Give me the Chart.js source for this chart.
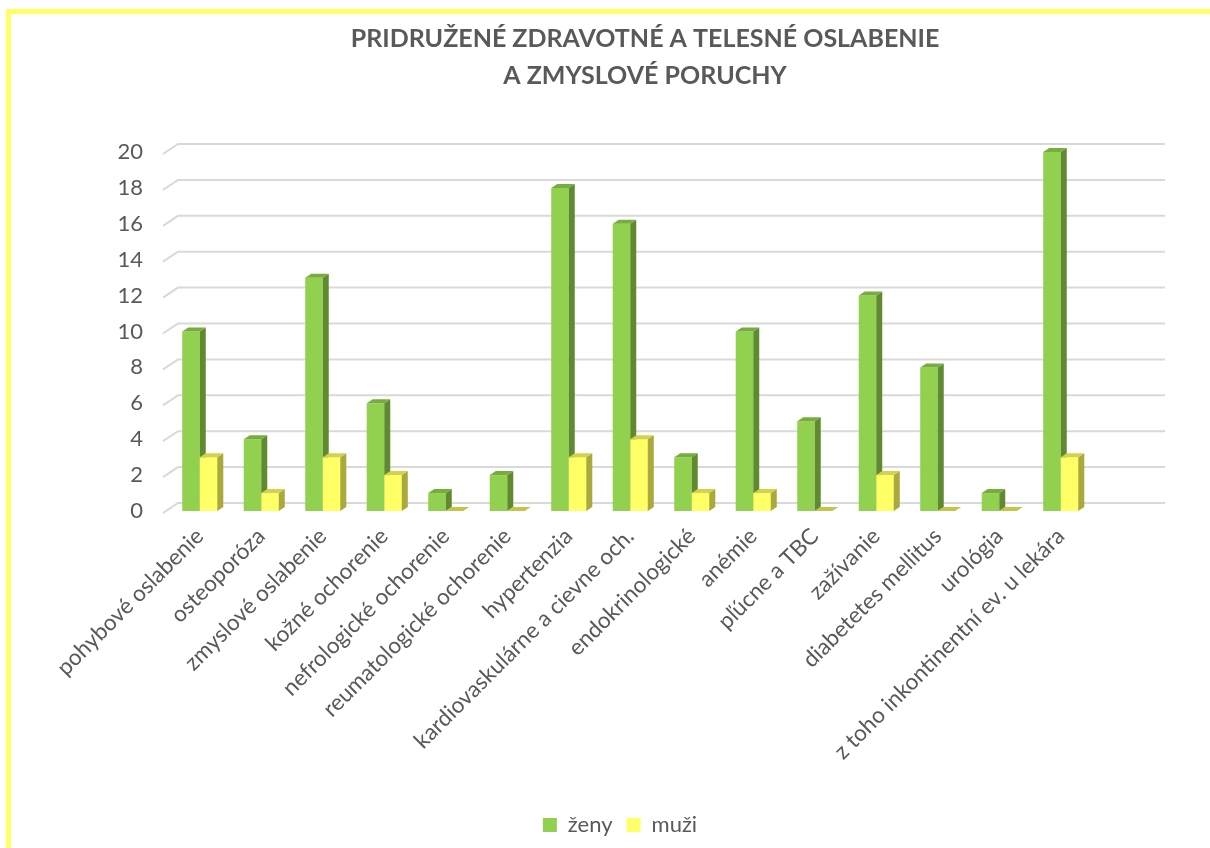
<!DOCTYPE html>
<html>
<head>
<meta charset="utf-8">
<script src="https://cdn.jsdelivr.net/npm/chart.js@4.4.1/dist/chart.umd.min.js"></script>
<style>
  html, body { margin: 0; padding: 0; background: #fff; overflow: hidden; }
  #wrap { position: relative; width: 1210px; height: 848px; }
  #frame { position: absolute; left: 6px; top: 9px; width: 1230px; height: 870px;
           border-left: 5px solid #ffff66; border-top: 5px solid #ffff66; pointer-events: none; }
</style>
</head>
<body>
<div id="wrap">
  <canvas id="myChart" width="1210" height="848"></canvas>
  <div id="frame"></div>
</div>
<script>
// categories + values (last category is empty in the sheet)
let categories = ["pohybové oslabenie", "osteoporóza", "zmyslové oslabenie", "kožné ochorenie",
    "nefrologické ochorenie", "reumatologické ochorenie", "hypertenzia", "kardiovaskulárne a cievne och.",
    "endokrinologické", "anémie", "pľúcne a TBC", "zažívanie", "diabetetes mellitus", "urológia",
    "z toho inkontinentní ev. u lekára", ""];
let zeny = [10, 4, 13, 6, 1, 2, 18, 16, 3, 10, 5, 12, 8, 1, 20, null];
let muzi = [3, 1, 3, 2, 0, 0, 3, 4, 1, 1, 0, 2, 0, 0, 3, null];
let yTicks = [0, 2, 4, 6, 8, 10, 12, 14, 16, 18, 20];
let titleLines = ['PRIDRUŽENÉ ZDRAVOTNÉ A TELESNÉ OSLABENIE', 'A ZMYSLOVÉ PORUCHY'];

const textColor = '#595959';
const fontName = 'Lato, "Open Sans", sans-serif';

// title centred over the whole frame, not only the chart area
const titleText = {
    id: 'titleText',
    afterDraw(chart) {
        let ctx = chart.ctx;
        ctx.save();
        ctx.fillStyle = textColor;
        ctx.font = 'bold 25px ' + fontName;
        ctx.textAlign = 'center';
        ctx.textBaseline = 'middle';
        titleLines.forEach((line, i) => ctx.fillText(line, 645, 39 + i * 37));
        ctx.restore();
    }
};

// back wall gridlines, like excel's 3d chart
const backWall = {
    id: 'backWall',
    beforeDatasetsDraw(chart) {
        let y = chart.scales.y;
        let area = chart.chartArea;
        let ctx = chart.ctx;
        ctx.save();
        ctx.strokeStyle = '#d9d9d9';
        ctx.lineWidth = 2;
        y.ticks.forEach(t => {
            let py = y.getPixelForValue(t.value);
            ctx.beginPath();
            ctx.moveTo(area.left - 6, py + 2);
            ctx.lineTo(area.left + 9, py - 8);
            ctx.lineTo(area.right + 12, py - 8);
            ctx.stroke();
        });
        ctx.restore();
    }
};

function drawFaces(ctx, bar, ds) {
    let dx = 6, dy = 4;
    let p = bar.getProps(['x', 'y', 'base', 'width'], true);
    let l = p.x - p.width / 2;
    let r = p.x + p.width / 2;
    if (p.base - p.y > 0.5) {
        ctx.fillStyle = ds.sideColor;
        ctx.beginPath();
        ctx.moveTo(r, p.y);
        ctx.lineTo(r + dx, p.y - dy);
        ctx.lineTo(r + dx, p.base - dy);
        ctx.lineTo(r, p.base);
        ctx.closePath();
        ctx.fill();
        ctx.fillStyle = ds.topColor;
    } else {
        ctx.fillStyle = ds.flatColor;
    }
    ctx.beginPath();
    ctx.moveTo(l, p.y);
    ctx.lineTo(l + dx, p.y - dy);
    ctx.lineTo(r + dx, p.y - dy);
    ctx.lineTo(r, p.y);
    ctx.closePath();
    ctx.fill();
}

// top and side faces; green first, then yellow drawn again in front of it
const depth3d = {
    id: 'depth3d',
    afterDatasetsDraw(chart) {
        let ctx = chart.ctx;
        ctx.save();
        chart.data.datasets.forEach((ds, di) => {
            let meta = chart.getDatasetMeta(di);
            meta.data.forEach((bar, i) => {
                if (ds.data[i] === null) return;
                if (di > 0) bar.draw(ctx, chart.chartArea);
                drawFaces(ctx, bar, ds);
            });
        });
        ctx.restore();
    }
};

let ctx = document.getElementById('myChart');
let myChart = new Chart(ctx, {
    type: 'bar',
    data: {
        labels: categories,
        datasets: [{
            label: 'ženy',
            data: zeny,
            backgroundColor: '#92d050',
            topColor: '#76ad3c',
            sideColor: '#5f8a2f',
            flatColor: '#6f9e38',
            categoryPercentage: 0.57,
            barPercentage: 1.0
        }, {
            label: 'muži',
            data: muzi,
            backgroundColor: '#ffff66',
            topColor: '#d2d24c',
            sideColor: '#a9a93c',
            flatColor: '#c4c448',
            categoryPercentage: 0.57,
            barPercentage: 1.0
        }]
    },
    options: {
        responsive: false,
        animation: false,
        layout: {
            padding: { left: 30, right: 0, top: 152, bottom: 2 }
        },
        scales: {
            x: {
                grid: { display: false },
                border: { display: false },
                ticks: {
                    autoSkip: false,
                    minRotation: 45,
                    maxRotation: 45,
                    color: textColor,
                    font: { family: fontName, size: 22.5 },
                    padding: 4
                },
                afterFit: function (scale) { scale.height = 289; }
            },
            y: {
                min: 0,
                max: 20,
                grid: { display: false, drawTicks: false },
                border: { display: false },
                afterBuildTicks: function (scale) {
                    scale.ticks = yTicks.map(v => ({ value: v }));
                },
                ticks: {
                    color: textColor,
                    font: { family: fontName, size: 22 },
                    padding: 26
                },
                afterFit: function (scale) { scale.width = 139; }
            },
            // empty strip on the right, keeps room for the back wall
            right: {
                position: 'right',
                grid: { display: false, drawTicks: false },
                border: { display: false },
                ticks: { display: false },
                afterFit: function (scale) { scale.width = 57; }
            }
        },
        plugins: {
            title: { display: false },
            legend: {
                position: 'bottom',
                labels: {
                    boxWidth: 14,
                    boxHeight: 14,
                    padding: 14,
                    color: textColor,
                    font: { family: fontName, size: 22 }
                }
            },
            tooltip: { enabled: false }
        }
    },
    plugins: [backWall, depth3d, titleText]
});
</script>
</body>
</html>
